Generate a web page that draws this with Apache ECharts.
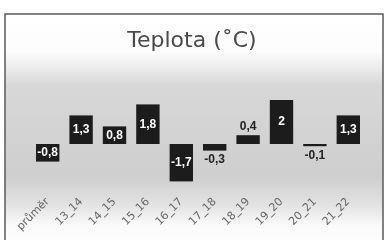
<!DOCTYPE html>
<html>
<head>
<meta charset="utf-8">
<script src="https://cdn.jsdelivr.net/npm/echarts@6/dist/echarts.min.js"></script>
<style>
  html, body { margin: 0; padding: 0; background: #fff; }
  #main { width: 384px; height: 240px; }
</style>
</head>
<body>
<div id="main"></div>
<script>
const categories = ['průměr', '13_14', '14_15', '15_16', '16_17', '17_18', '18_19', '19_20', '20_21', '21_22'];
const values = [-0.8, 1.3, 0.8, 1.8, -1.7, -0.3, 0.4, 2, -0.1, 1.3];

const fmt = v => String(v).replace('.', ',');

const myChart = echarts.init(document.getElementById('main'));

// small bars get their label outside, in black
const seriesData = values.map(v => {
    const small = Math.abs(v) < 0.5;
    return {
        value: v,
        label: small
            ? { position: v >= 0 ? 'top' : 'bottom', color: '#222', distance: 3 }
            : { position: 'inside', color: '#fff' }
    };
});

const option = {
    animation: false,
    graphic: [
        {
            type: 'rect',
            z: -10,
            shape: { x: 5, y: 14, width: 378, height: 240 },
            style: {
                fill: {
                    type: 'linear', x: 0, y: 0, x2: 0, y2: 1,
                    colorStops: [
                        { offset: 0, color: '#ffffff' },
                        { offset: 0.16, color: '#fcfcfc' },
                        { offset: 0.3, color: '#d8d8d8' },
                        { offset: 0.68, color: '#cecece' },
                        { offset: 0.8, color: '#e4e4e4' },
                        { offset: 0.88, color: '#fafafa' },
                        { offset: 1, color: '#ffffff' }
                    ]
                },
                stroke: '#5a5a5a',
                lineWidth: 1.5
            }
        }
    ],
    title: {
        text: 'Teplota (˚C)',
        left: 'center',
        top: 25,
        textStyle: {
            fontFamily: 'DejaVu Sans',
            fontSize: 22,
            fontWeight: 'normal',
            color: '#4a4a4a'
        }
    },
    grid: { left: 31, right: 19, top: 100, bottom: 52 },
    xAxis: {
        type: 'category',
        data: categories,
        axisLine: { show: false, onZero: false },
        axisTick: { show: false },
        axisLabel: {
            rotate: 45,
            margin: 12,
            fontSize: 11,
            fontFamily: 'DejaVu Sans',
            color: '#666',
            interval: 0
        }
    },
    yAxis: {
        type: 'value',
        min: -2,
        max: 2,
        show: false
    },
    series: [{
        type: 'bar',
        data: seriesData,
        barWidth: '70%',
        itemStyle: { color: '#1c1c1c' },
        label: {
            show: true,
            fontFamily: 'Liberation Sans',
            fontWeight: 'bold',
            fontSize: 12,
            formatter: p => fmt(p.value)
        }
    }]
};
myChart.setOption(option);
</script>
</body>
</html>
